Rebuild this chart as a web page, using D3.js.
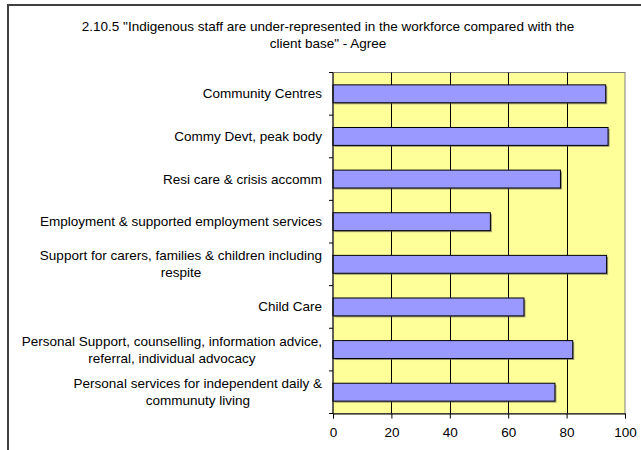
<!DOCTYPE html>
<html>
<head>
<meta charset="utf-8">
<script src="https://cdn.jsdelivr.net/npm/d3@7/dist/d3.min.js"></script>
<style>
html,body{margin:0;padding:0;background:#fff;}
svg{display:block;font-family:"Liberation Sans",Arial,sans-serif;}
</style>
</head>
<body>
<svg id="c" width="641" height="450"></svg>
<script>
const titleLines = ["2.10.5 \"Indigenous staff are under-represented in the workforce compared with the", "client base\" - Agree"];
const categories = [
  "Community Centres",
  "Commy Devt, peak body",
  "Resi care & crisis accomm",
  "Employment & supported employment services",
  "Support for carers, families & children including\nrespite",
  "Child Care",
  "Personal Support, counselling, information advice,\nreferral, individual advocacy",
  "Personal services for independent daily &\ncommunuty living"
];
const values = [93.4, 94.2, 77.9, 53.9, 93.7, 65.4, 82.1, 76.0];
const xTicks = [0, 20, 40, 60, 80, 100];

const FS = 13.5;
const svg = d3.select("#c");
const m = {left: 333, right: 625, top: 72.5, bottom: 413.5};

// outer chart border
svg.append("rect").attr("x", 8).attr("y", 5).attr("width", 700).attr("height", 500)
  .attr("fill", "#fff").attr("stroke", "#404040").attr("stroke-width", 2);

// title
const title = svg.append("text").attr("text-anchor", "middle").attr("font-size", FS).attr("fill", "#000");
titleLines.forEach((t, i) => {
  title.append("tspan").attr("x", 328).attr("y", 31 + i * 17).text(t);
});

const x = d3.scaleLinear().domain([0, 100]).range([m.left, m.right]);
const y = d3.scaleBand().domain(categories).range([m.top, m.bottom]).paddingInner(0.58).paddingOuter(0.29);
const yb = d3.scaleBand().domain(categories).range([m.top, m.bottom]);

// plot area
svg.append("rect").attr("x", m.left).attr("y", m.top).attr("width", m.right - m.left).attr("height", m.bottom - m.top)
  .attr("fill", "#FFFF99").attr("stroke", "#808080").attr("stroke-width", 1);

// gridlines
svg.append("g").selectAll("line").data(xTicks.filter(d => d > 0 && d < 100)).join("line")
  .attr("x1", d => Math.round(x(d)) + 0.5).attr("x2", d => Math.round(x(d)) + 0.5)
  .attr("y1", m.top).attr("y2", m.bottom).attr("stroke", "#000").attr("stroke-width", 1);

// bar shadows
svg.append("g").selectAll("rect").data(values).join("rect")
  .attr("x", x(0) + 1.5).attr("y", (d, i) => y(categories[i]) + 1.5)
  .attr("width", d => x(d) - x(0)).attr("height", y.bandwidth())
  .attr("fill", "#555").attr("opacity", 0.6);

// bars
svg.append("g").selectAll("rect").data(values).join("rect")
  .attr("x", x(0)).attr("y", (d, i) => y(categories[i]))
  .attr("width", d => x(d) - x(0)).attr("height", y.bandwidth())
  .attr("fill", "#9999FF").attr("stroke", "#000").attr("stroke-width", 1);

// x axis
const xAxis = d3.axisBottom(x).tickValues(xTicks).tickSize(5).tickPadding(9).tickFormat(d3.format("d"));
const gx = svg.append("g").attr("transform", `translate(0,${m.bottom})`).call(xAxis);
gx.select(".domain").attr("stroke", "#000");
gx.selectAll("line").attr("stroke", "#000");
gx.selectAll("text").attr("font-size", FS).attr("font-family", "Liberation Sans, Arial, sans-serif").attr("fill", "#000");

// y axis line and ticks at band boundaries
svg.append("line").attr("x1", m.left).attr("x2", m.left).attr("y1", m.top).attr("y2", m.bottom).attr("stroke", "#000");
const bounds = categories.map(c => yb(c)).concat([m.bottom]);
svg.append("g").selectAll("line").data(bounds).join("line")
  .attr("x1", m.left - 4).attr("x2", m.left).attr("y1", d => d).attr("y2", d => d).attr("stroke", "#000");

// y labels (multi-line blocks, lines centred, block right-aligned)
const lab = svg.append("g").selectAll("text").data(categories).join("text")
  .attr("text-anchor", "middle").attr("font-size", FS).attr("fill", "#000");
lab.each(function(c) {
  const lines = c.split("\n");
  const cy = yb(c) + yb.bandwidth() / 2;
  const t = d3.select(this);
  const lh = 17;
  let maxW = 0;
  lines.forEach((l, i) => {
    const ts = t.append("tspan").attr("x", 0).attr("y", cy + (i - (lines.length - 1) / 2) * lh + 4.5).text(l);
    maxW = Math.max(maxW, ts.node().getComputedTextLength());
  });
  t.selectAll("tspan").attr("x", 322 - maxW / 2);
});
</script>
</body>
</html>
